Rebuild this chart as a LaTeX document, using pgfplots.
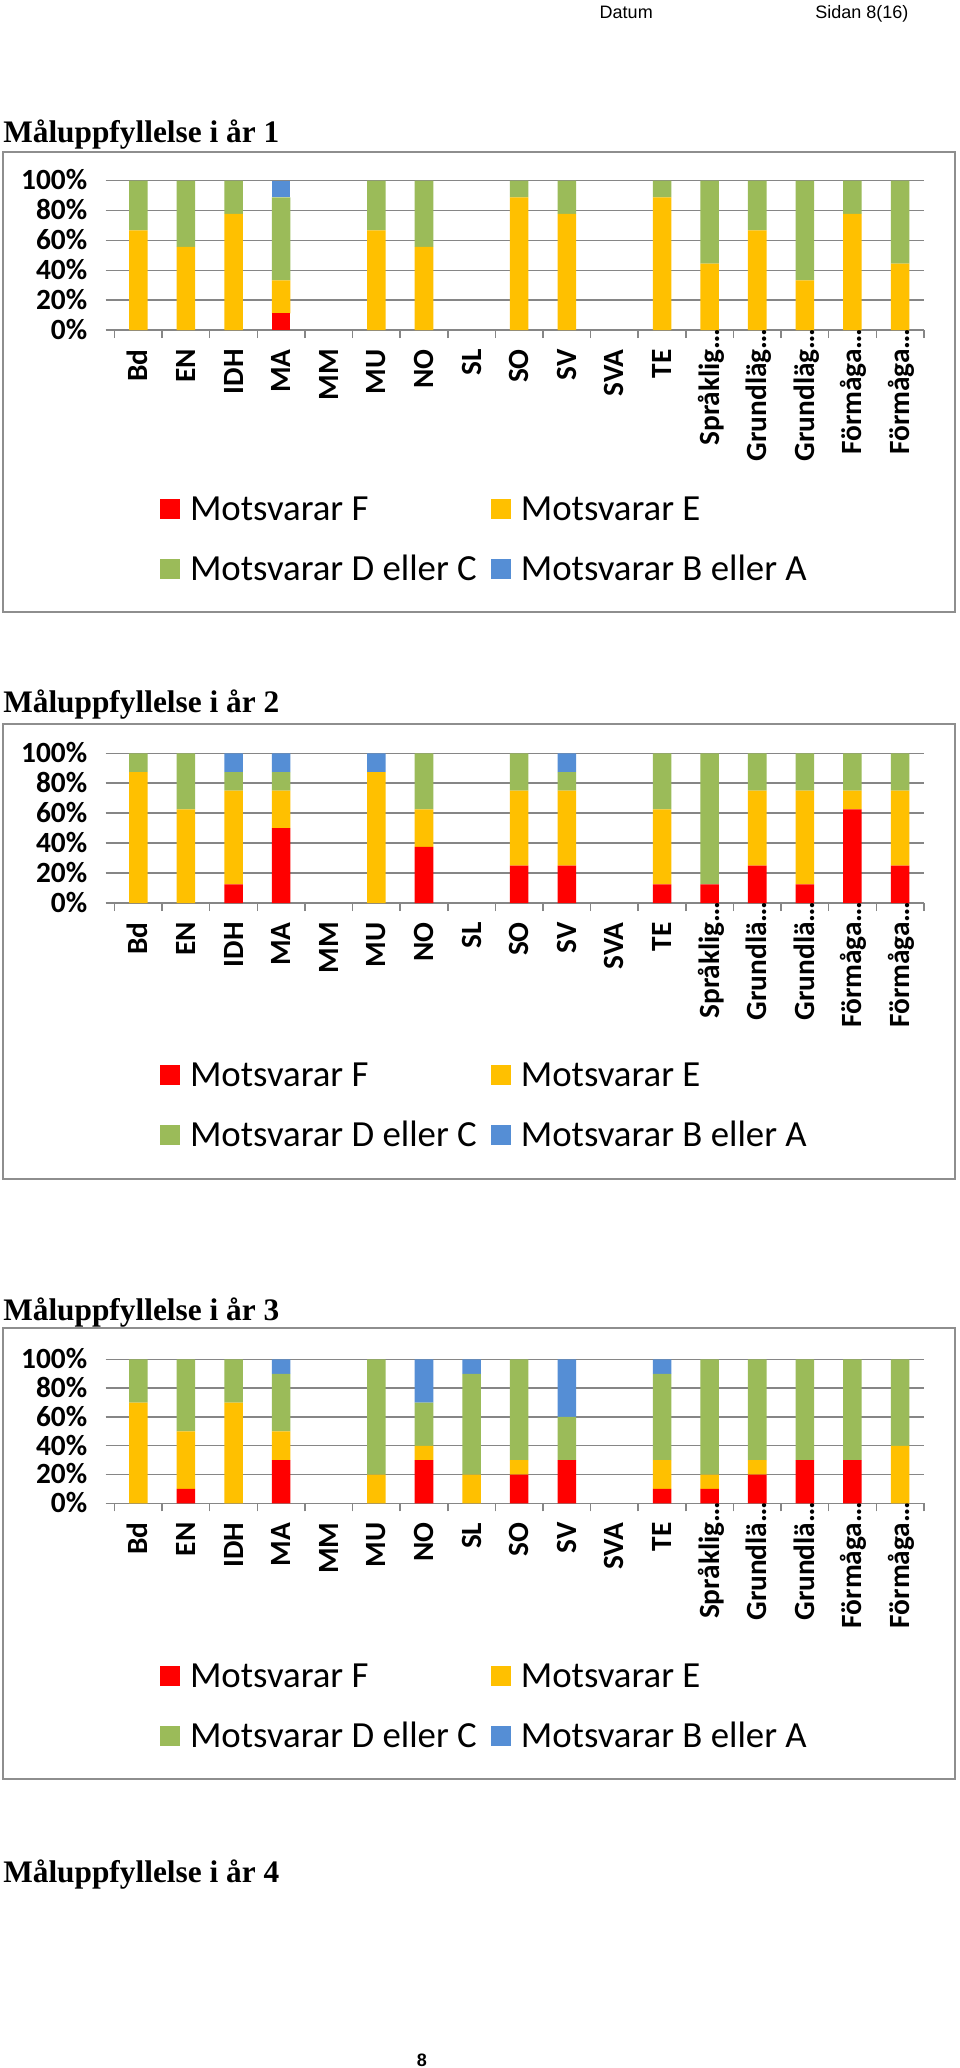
\documentclass[border=0pt]{standalone}
\usepackage{fontspec}
\setmainfont{Liberation Serif}
\newfontfamily\carlito{Carlito}
\newfontfamily\arialf{Liberation Sans}
\usepackage{pgfplots}
\usepackage{pgfplotstable}
\pgfplotsset{compat=1.18}
\definecolor{cF}{HTML}{FF0000}
\definecolor{cE}{HTML}{FFC000}
\definecolor{cDC}{HTML}{9BBB59}
\definecolor{cBA}{HTML}{558ED5}
\definecolor{gridgray}{HTML}{868686}
\definecolor{boxgray}{HTML}{8E8E8E}

\pgfplotstableread{
x F E DC BA
0 0 66.7 33.3 0
1 0 55.6 44.4 0
2 0 77.8 22.2 0
3 11.1 22.2 55.6 11.1
4 0 0 0 0
5 0 66.7 33.3 0
6 0 55.6 44.4 0
7 0 0 0 0
8 0 88.9 11.1 0
9 0 77.8 22.2 0
10 0 0 0 0
11 0 88.9 11.1 0
12 0 44.4 55.6 0
13 0 66.7 33.3 0
14 0 33.3 66.7 0
15 0 77.8 22.2 0
16 0 44.4 55.6 0
}\tabA

\pgfplotstableread{
x F E DC BA
0 0 87.5 12.5 0
1 0 62.5 37.5 0
2 12.5 62.5 12.5 12.5
3 50 25 12.5 12.5
4 0 0 0 0
5 0 87.5 0 12.5
6 37.5 25 37.5 0
7 0 0 0 0
8 25 50 25 0
9 25 50 12.5 12.5
10 0 0 0 0
11 12.5 50 37.5 0
12 12.5 0 87.5 0
13 25 50 25 0
14 12.5 62.5 25 0
15 62.5 12.5 25 0
16 25 50 25 0
}\tabB

\pgfplotstableread{
x F E DC BA
0 0 70 30 0
1 10 40 50 0
2 0 70 30 0
3 30 20 40 10
4 0 0 0 0
5 0 20 80 0
6 30 10 30 30
7 0 20 70 10
8 20 10 70 0
9 30 0 30 40
10 0 0 0 0
11 10 20 60 10
12 10 10 80 0
13 20 10 70 0
14 30 0 70 0
15 30 0 70 0
16 0 40 60 0
}\tabC

\pgfplotsset{
  mychart/.style={
    scale only axis,
    width=607pt,
    xmin=-0.5, xmax=16.5, ymin=0, ymax=100,
    ybar stacked, bar width=13.9pt,
    axis x line*=bottom, axis y line*=left,
    x axis line style={draw=gridgray, line width=1.1pt, -},
    y axis line style={draw=none, -},
    ymajorgrids, major grid style={draw=gridgray, line width=1.1pt},
    ytick={0,20,...,100},
    yticklabels={0\%,20\%,40\%,60\%,80\%,100\%},
    xtick={0,...,16},
    minor xtick={-0.5,0.5,...,16.5},
    tick align=outside,
    major tick length=6.75pt,
    minor tick length=6pt,
    major x tick style={draw=none},
    minor x tick style={draw=gridgray, line width=1.1pt},
    major y tick style={draw=gridgray, line width=1.1pt},
    xticklabel style={rotate=90, anchor=east, inner sep=0pt,
      font=\carlito\bfseries\fontsize{22}{26}\selectfont,
      text height=14.2pt, text depth=0pt},
    xticklabel shift=7.5pt,
    yticklabel style={anchor=east, inner sep=0pt,
      font=\carlito\bfseries\fontsize{22}{26}\selectfont,
      text height=13.9pt, text depth=0pt},
    yticklabel shift=13.6pt,
    legend columns=2,
    legend cell align=left,
    legend image code/.code={\fill[##1] (0pt,-6.5pt) rectangle (15pt,8.5pt);},
    legend style={draw=none, fill=none, inner sep=0pt, outer sep=0pt,
      anchor=north west,
      font=\carlito\fontsize{27.6}{30}\selectfont,
      row sep=20pt,
      nodes={inner sep=0pt, text height=20pt, text depth=5pt},
      /tikz/every odd column/.append style={column sep=7.5pt},
      /tikz/every even column/.append style={column sep=10.5pt}},
  }
}

\begin{document}
\begin{tikzpicture}
\useasboundingbox[fill=white] (0pt,0pt) rectangle (720pt,-1551pt);

% header
\node[anchor=base west, inner sep=0pt, font=\arialf\fontsize{13.5}{16}\selectfont] at (449.6pt,-13.7pt) {Datum};
\node[anchor=base west, inner sep=0pt, font=\arialf\fontsize{13.5}{16}\selectfont] at (611.3pt,-13.7pt) {Sidan 8(16)};

% titles
\node[anchor=base west, inner sep=0pt, font=\bfseries\fontsize{23.5}{28}\selectfont] at (2.25pt,-106.5pt) {Måluppfyllelse i år 1};
\node[anchor=base west, inner sep=0pt, font=\bfseries\fontsize{23.5}{28}\selectfont] at (2.25pt,-534pt) {Måluppfyllelse i år 2};
\node[anchor=base west, inner sep=0pt, font=\bfseries\fontsize{23.5}{28}\selectfont] at (2.25pt,-990pt) {Måluppfyllelse i år 3};
\node[anchor=base west, inner sep=0pt, font=\bfseries\fontsize{23.5}{28}\selectfont] at (2.25pt,-1411.5pt) {Måluppfyllelse i år 4};

% page number
\node[anchor=base, inner sep=0pt, font=\arialf\bfseries\fontsize{13.5}{16}\selectfont] at (316.5pt,-1549.5pt) {8};

% chart boxes
\draw[boxgray, line width=1.5pt] (2.6pt,-114pt) rectangle (716.3pt,-459pt);
\draw[boxgray, line width=1.5pt] (2.6pt,-543pt) rectangle (716.3pt,-884.3pt);
\draw[boxgray, line width=1.5pt] (2.6pt,-996pt) rectangle (716.3pt,-1334.3pt);

% chart 1
\begin{axis}[mychart, height=112pt,
  at={(85.9pt,-247.5pt)}, anchor=south west,
  xticklabels={Bd,EN,IDH,MA,MM,MU,NO,SL,SO,SV,SVA,TE,Språklig\rlap{…},Grundläg\rlap{…},Grundläg\rlap{…},Förmåga\rlap{…},Förmåga\rlap{…}},
  legend style={at={(0.0562,-1.0938)}}]
\addplot [fill=cF, draw=none] table [x=x, y=F] {\tabA};
\addplot [fill=cE, draw=none] table [x=x, y=E] {\tabA};
\addplot [fill=cDC, draw=none] table [x=x, y=DC] {\tabA};
\addplot [fill=cBA, draw=none] table [x=x, y=BA] {\tabA};
\legend{Motsvarar F, Motsvarar E, Motsvarar D eller C, Motsvarar B eller A}
\end{axis}

% chart 2
\begin{axis}[mychart, height=112.3pt,
  at={(85.9pt,-677.25pt)}, anchor=south west,
  xticklabels={Bd,EN,IDH,MA,MM,MU,NO,SL,SO,SV,SVA,TE,Språklig\rlap{…},Grundlä\rlap{…},Grundlä\rlap{…},Förmåga\rlap{…},Förmåga\rlap{…}},
  legend style={at={(0.0562,-1.0441)}}]
\addplot [fill=cF, draw=none] table [x=x, y=F] {\tabB};
\addplot [fill=cE, draw=none] table [x=x, y=E] {\tabB};
\addplot [fill=cDC, draw=none] table [x=x, y=DC] {\tabB};
\addplot [fill=cBA, draw=none] table [x=x, y=BA] {\tabB};
\legend{Motsvarar F, Motsvarar E, Motsvarar D eller C, Motsvarar B eller A}
\end{axis}

% chart 3
\begin{axis}[mychart, height=108pt,
  at={(85.9pt,-1127.5pt)}, anchor=south west,
  xticklabels={Bd,EN,IDH,MA,MM,MU,NO,SL,SO,SV,SVA,TE,Språklig\rlap{…},Grundlä\rlap{…},Grundlä\rlap{…},Förmåga\rlap{…},Förmåga\rlap{…}},
  legend style={at={(0.0562,-1.0903)}}]
\addplot [fill=cF, draw=none] table [x=x, y=F] {\tabC};
\addplot [fill=cE, draw=none] table [x=x, y=E] {\tabC};
\addplot [fill=cDC, draw=none] table [x=x, y=DC] {\tabC};
\addplot [fill=cBA, draw=none] table [x=x, y=BA] {\tabC};
\legend{Motsvarar F, Motsvarar E, Motsvarar D eller C, Motsvarar B eller A}
\end{axis}
\end{tikzpicture}
\end{document}
